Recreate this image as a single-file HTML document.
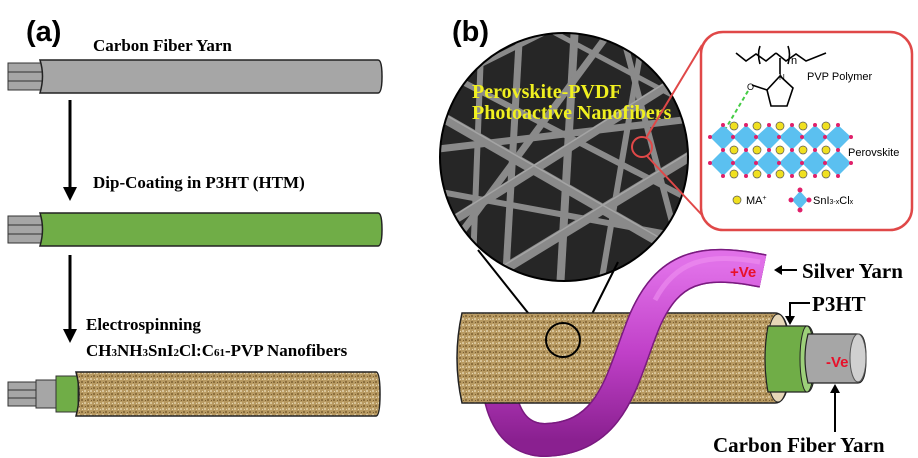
<!DOCTYPE html>
<html><head><meta charset="utf-8"><style>
html,body{margin:0;padding:0;background:#fff;}
svg{display:block;}
.serif{font-family:"Liberation Serif",serif;font-weight:bold;}
.sans{font-family:"Liberation Sans",sans-serif;}
</style></head><body>
<svg width="918" height="458" viewBox="0 0 918 458" xmlns="http://www.w3.org/2000/svg">
<defs>
<pattern id="tex" width="6" height="6" patternUnits="userSpaceOnUse">
<rect width="6" height="6" fill="#b89a62"/>
<rect x="0" y="0" width="2" height="2" fill="#d8c49a"/>
<rect x="3" y="3" width="2" height="2" fill="#8c6f3e"/>
<rect x="4" y="1" width="1" height="1" fill="#e4d4b0"/>
<rect x="1" y="4" width="1" height="1" fill="#7a5f33"/>
</pattern>
<linearGradient id="purp" x1="0" y1="0" x2="0" y2="1">
<stop offset="0" stop-color="#e070e8"/><stop offset="0.5" stop-color="#c040c8"/><stop offset="1" stop-color="#8a2090"/>
</linearGradient>
<clipPath id="sem"><circle cx="564" cy="157" r="124"/></clipPath>
<clipPath id="front"><rect x="530" y="240" width="270" height="218"/></clipPath>
</defs>

<!-- (a) -->
<text x="26" y="41" class="sans" font-weight="bold" font-size="29">(a)</text>
<text x="93" y="51" class="serif" font-size="17">Carbon Fiber Yarn</text>
<rect x="8" y="63" width="36" height="9" fill="#a6a6a6" stroke="#333" stroke-width="1"/>
<rect x="8" y="72" width="36" height="9" fill="#a6a6a6" stroke="#333" stroke-width="1"/>
<rect x="8" y="81" width="36" height="9" fill="#a6a6a6" stroke="#333" stroke-width="1"/>
<path d="M40 60 H378 Q382 60 382 76.5 Q382 93 378 93 H40 Q45 76 40 60 Z" fill="#a6a6a6" stroke="#222" stroke-width="1.5"/>
<line x1="70" y1="100" x2="70" y2="188" stroke="#000" stroke-width="3"/>
<polygon points="63,187 77,187 70,201" fill="#000"/>
<text x="93" y="188" class="serif" font-size="17">Dip-Coating in P3HT (HTM)</text>
<rect x="8" y="216" width="36" height="9" fill="#a6a6a6" stroke="#333" stroke-width="1"/>
<rect x="8" y="225" width="36" height="9" fill="#a6a6a6" stroke="#333" stroke-width="1"/>
<rect x="8" y="234" width="36" height="9" fill="#a6a6a6" stroke="#333" stroke-width="1"/>
<path d="M40 213 H378 Q382 213 382 229.5 Q382 246 378 246 H40 Q45 229 40 213 Z" fill="#70ad47" stroke="#222" stroke-width="1.5"/>
<line x1="70" y1="255" x2="70" y2="330" stroke="#000" stroke-width="3"/>
<polygon points="63,329 77,329 70,343" fill="#000"/>
<text x="86" y="330" class="serif" font-size="17">Electrospinning</text>
<text x="86" y="356" class="serif" font-size="17">CH<tspan font-size="11">3</tspan>NH<tspan font-size="11">3</tspan>SnI<tspan font-size="11">2</tspan>Cl:C<tspan font-size="11">61</tspan>-PVP Nanofibers</text>
<rect x="8" y="382" width="32" height="8" fill="#a6a6a6" stroke="#333" stroke-width="1"/>
<rect x="8" y="390" width="32" height="8" fill="#a6a6a6" stroke="#333" stroke-width="1"/>
<rect x="8" y="398" width="32" height="8" fill="#a6a6a6" stroke="#333" stroke-width="1"/>
<rect x="36" y="380" width="22" height="28" fill="#a6a6a6" stroke="#333" stroke-width="1"/>
<rect x="56" y="376" width="22" height="36" fill="#70ad47" stroke="#333" stroke-width="1"/>
<path d="M76 372 H376 Q380 372 380 394 Q380 416 376 416 H76 Q82 394 76 372 Z" fill="url(#tex)" stroke="#222" stroke-width="1.5"/>

<!-- (b) -->
<text x="452" y="41" class="sans" font-weight="bold" font-size="29">(b)</text>
<g clip-path="url(#sem)">
<rect x="430" y="25" width="270" height="270" fill="#262626"/>
<g stroke="#8a8a8a">
<line x1="430" y1="110" x2="700" y2="265" stroke-width="10"/>
<line x1="430" y1="235" x2="700" y2="65" stroke-width="9"/>
<line x1="520" y1="25" x2="505" y2="290" stroke-width="7"/>
<line x1="575" y1="25" x2="560" y2="290" stroke-width="8"/>
<line x1="430" y1="150" x2="700" y2="118" stroke-width="7"/>
<line x1="470" y1="290" x2="700" y2="150" stroke-width="10"/>
<line x1="620" y1="25" x2="690" y2="290" stroke-width="6"/>
<line x1="430" y1="275" x2="615" y2="25" stroke-width="7"/>
<line x1="645" y1="25" x2="600" y2="290" stroke-width="6"/>
<line x1="430" y1="65" x2="700" y2="205" stroke-width="6"/>
<line x1="482" y1="25" x2="472" y2="290" stroke-width="6"/>
<line x1="430" y1="190" x2="700" y2="240" stroke-width="6"/>
<line x1="540" y1="25" x2="700" y2="110" stroke-width="5"/>
<line x1="430" y1="90" x2="560" y2="25" stroke-width="5"/>
</g>
<g stroke="#b0b0b0" stroke-width="1.5" opacity="0.7">
<line x1="430" y1="106" x2="700" y2="261"/>
<line x1="430" y1="231" x2="700" y2="61"/>
<line x1="470" y1="286" x2="700" y2="146"/>
</g>
</g>
<circle cx="564" cy="157" r="124" fill="none" stroke="#000" stroke-width="2"/>
<text x="472" y="98" class="serif" font-size="20" fill="#f0f020">Perovskite-PVDF</text>
<text x="472" y="119" class="serif" font-size="20" fill="#f0f020">Photoactive Nanofibers</text>
<circle cx="642" cy="147" r="10" fill="none" stroke="#e04848" stroke-width="2"/>
<line x1="646" y1="138" x2="702" y2="45" stroke="#e04848" stroke-width="2"/>
<line x1="647" y1="156" x2="702" y2="215" stroke="#e04848" stroke-width="2"/>
<rect x="701" y="32" width="211" height="198" rx="22" fill="#fff" stroke="#e04848" stroke-width="2.5"/>
<g stroke="#000" stroke-width="1.6" fill="none">
<polyline points="736,53 746,61 756,54 766,61 776,53"/>
<polyline points="776,53 786,61 796,54 806,61 826,53"/>
<path d="M760 46 Q757 54 760 64 M788 46 Q791 54 788 64"/>
<line x1="780" y1="58" x2="780" y2="74"/>
<polygon points="780,76 793,88 787,106 771,106 767,90"/>
<line x1="767" y1="90" x2="752" y2="85"/>
</g>
<text x="779" y="80" class="sans" font-size="8">N</text>
<text x="747" y="90" class="sans" font-size="9">O</text>
<text x="791" y="64" class="sans" font-size="11">n</text>
<text x="807" y="80" class="sans" font-size="11">PVP Polymer</text>
<line x1="748" y1="91" x2="726" y2="128" stroke="#44cc44" stroke-width="2" stroke-dasharray="4,3"/>
<g fill="#5bc0f0">
<polygon points="723,125 736,137 723,150 710,137"/><polygon points="746,125 759,137 746,150 733,137"/><polygon points="769,125 782,137 769,150 756,137"/><polygon points="792,125 805,137 792,150 779,137"/><polygon points="815,125 828,137 815,150 802,137"/><polygon points="838,125 851,137 838,150 825,137"/>
<polygon points="723,150 736,163 723,176 710,163"/><polygon points="746,150 759,163 746,176 733,163"/><polygon points="769,150 782,163 769,176 756,163"/><polygon points="792,150 805,163 792,176 779,163"/><polygon points="815,150 828,163 815,176 802,163"/><polygon points="838,150 851,163 838,176 825,163"/>
</g>
<g fill="#e0206a">
<circle cx="710" cy="137" r="2"/><circle cx="733" cy="137" r="2"/><circle cx="756" cy="137" r="2"/><circle cx="779" cy="137" r="2"/><circle cx="802" cy="137" r="2"/><circle cx="825" cy="137" r="2"/><circle cx="851" cy="137" r="2"/>
<circle cx="710" cy="163" r="2"/><circle cx="733" cy="163" r="2"/><circle cx="756" cy="163" r="2"/><circle cx="779" cy="163" r="2"/><circle cx="802" cy="163" r="2"/><circle cx="825" cy="163" r="2"/><circle cx="851" cy="163" r="2"/>
<circle cx="723" cy="125" r="2"/><circle cx="746" cy="125" r="2"/><circle cx="769" cy="125" r="2"/><circle cx="792" cy="125" r="2"/><circle cx="815" cy="125" r="2"/><circle cx="838" cy="125" r="2"/>
<circle cx="723" cy="150" r="2"/><circle cx="746" cy="150" r="2"/><circle cx="769" cy="150" r="2"/><circle cx="792" cy="150" r="2"/><circle cx="815" cy="150" r="2"/><circle cx="838" cy="150" r="2"/>
<circle cx="723" cy="176" r="2"/><circle cx="746" cy="176" r="2"/><circle cx="769" cy="176" r="2"/><circle cx="792" cy="176" r="2"/><circle cx="815" cy="176" r="2"/><circle cx="838" cy="176" r="2"/>
</g>
<g fill="#f0e020" stroke="#555" stroke-width="0.7">
<circle cx="734" cy="126" r="4"/><circle cx="757" cy="126" r="4"/><circle cx="780" cy="126" r="4"/><circle cx="803" cy="126" r="4"/><circle cx="826" cy="126" r="4"/>
<circle cx="734" cy="150" r="4"/><circle cx="757" cy="150" r="4"/><circle cx="780" cy="150" r="4"/><circle cx="803" cy="150" r="4"/><circle cx="826" cy="150" r="4"/>
<circle cx="734" cy="174" r="4"/><circle cx="757" cy="174" r="4"/><circle cx="780" cy="174" r="4"/><circle cx="803" cy="174" r="4"/><circle cx="826" cy="174" r="4"/>
<circle cx="737" cy="200" r="4"/>
</g>
<text x="848" y="156" class="sans" font-size="11">Perovskite</text>
<text x="746" y="204" class="sans" font-size="11">MA<tspan font-size="7" dy="-4">+</tspan></text>
<polygon points="800,191 808,200 800,209 792,200" fill="#5bc0f0"/>
<g fill="#e0206a"><circle cx="800" cy="190" r="2.5"/><circle cx="800" cy="210" r="2.5"/><circle cx="791" cy="200" r="2.5"/><circle cx="809" cy="200" r="2.5"/></g>
<text x="813" y="204" class="sans" font-size="11">SnI<tspan font-size="7">3-x</tspan>Cl<tspan font-size="7">x</tspan></text>

<line x1="478" y1="250" x2="548" y2="338" stroke="#000" stroke-width="2"/>
<line x1="618" y1="262" x2="580" y2="338" stroke="#000" stroke-width="2"/>

<path d="M763 271 C700 258 668 268 645 320 C622 375 615 438 545 440 C518 440 505 420 500 395" fill="none" stroke="#7a1a80" stroke-width="34"/>
<path d="M763 271 C700 258 668 268 645 320 C622 375 615 438 545 440 C518 440 505 420 500 395" fill="none" stroke="url(#purp)" stroke-width="31"/>
<path d="M462 313 H775 Q790 313 790 358 Q790 403 775 403 H462 Q452 358 462 313 Z" fill="url(#tex)" stroke="#222" stroke-width="1.5"/>
<ellipse cx="778" cy="358" rx="12" ry="44" fill="#e6d7b8" stroke="#222" stroke-width="1"/>
<path d="M768 326 H807 Q815 326 815 359 Q815 392 807 392 H768 Q762 359 768 326 Z" fill="#70ad47" stroke="#222" stroke-width="1.2"/>
<ellipse cx="807" cy="359" rx="7" ry="33" fill="#9dd07a" stroke="#222" stroke-width="1"/>
<path d="M808 334 H858 Q866 334 866 358 Q866 383 858 383 H808 Q802 358 808 334 Z" fill="#a6a6a6" stroke="#222" stroke-width="1.2"/>
<ellipse cx="858" cy="358" rx="8" ry="24" fill="#d0d0d0" stroke="#555" stroke-width="1"/>
<circle cx="563" cy="340" r="17" fill="none" stroke="#000" stroke-width="2"/>
<g clip-path="url(#front)">
<path d="M763 271 C700 258 668 268 645 320 C622 375 615 438 545 440 C518 440 505 420 500 395" fill="none" stroke="#7a1a80" stroke-width="34"/>
<path d="M763 271 C700 258 668 268 645 320 C622 375 615 438 545 440 C518 440 505 420 500 395" fill="none" stroke="url(#purp)" stroke-width="31"/>
<path d="M760 262 C705 252 675 262 655 300" fill="none" stroke="#ee90f0" stroke-width="5" opacity="0.6"/>
</g>
<text x="730" y="277" class="sans" font-weight="bold" font-size="15" fill="#e8102a">+Ve</text>
<line x1="780" y1="270" x2="797" y2="270" stroke="#000" stroke-width="2"/>
<polygon points="774,270 782,265 782,275" fill="#000"/>
<text x="802" y="278" class="serif" font-size="21">Silver Yarn</text>
<polyline points="810,303 790,303 790,318" fill="none" stroke="#000" stroke-width="2"/>
<polygon points="785,316 795,316 790,325" fill="#000"/>
<text x="812" y="311" class="serif" font-size="21">P3HT</text>
<text x="826" y="367" class="sans" font-weight="bold" font-size="15" fill="#e8102a">-Ve</text>
<line x1="835" y1="432" x2="835" y2="392" stroke="#000" stroke-width="2"/>
<polygon points="830,393 840,393 835,384" fill="#000"/>
<text x="713" y="452" class="serif" font-size="21">Carbon Fiber Yarn</text>
</svg>
</body></html>
